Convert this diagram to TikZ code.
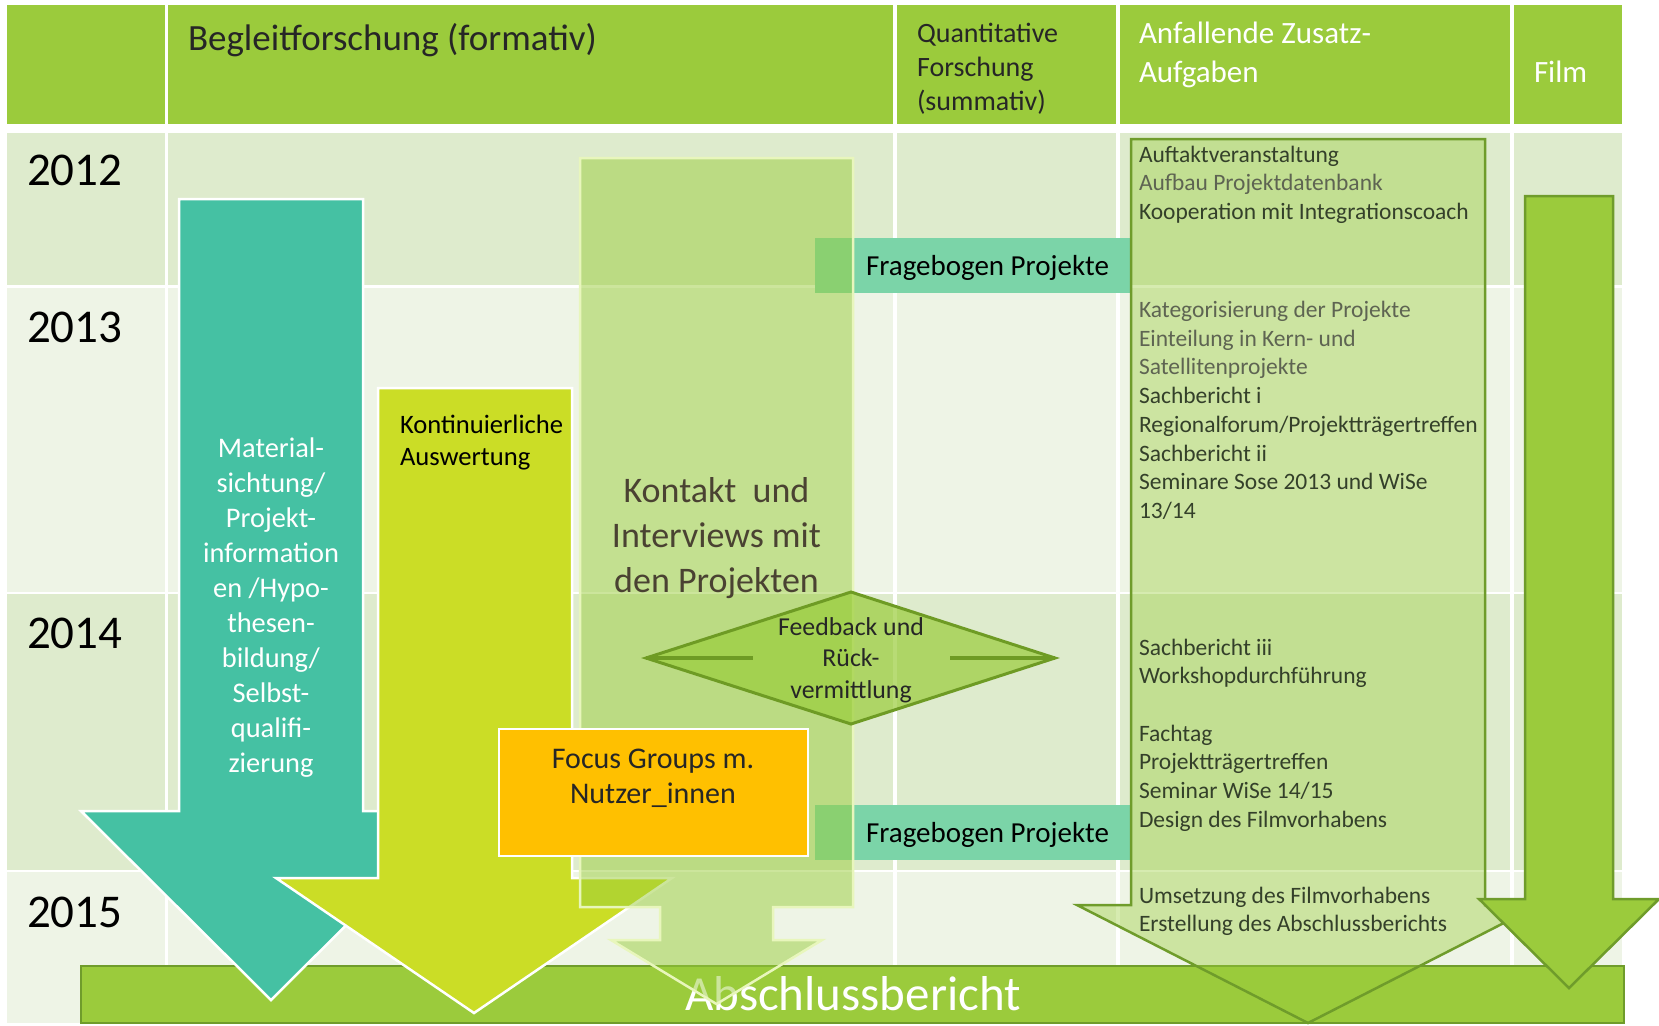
\documentclass[tikz,border=0pt]{standalone}
\usepackage{fontspec}
\setmainfont{Carlito}

\definecolor{hdr}{HTML}{9BCB3C}
\definecolor{rowA}{HTML}{DEEBCD}
\definecolor{rowB}{HTML}{EEF4E6}
\definecolor{tealarrow}{HTML}{45C1A3}
\definecolor{limearrow}{HTML}{CBDD26}
\definecolor{focusorange}{HTML}{FFC000}
\definecolor{mint}{HTML}{7BD4A8}
\definecolor{leaf}{HTML}{9ACD3B}
\definecolor{leafdark}{HTML}{6F9C2B}
\definecolor{diamondedge}{HTML}{6E9B24}
\definecolor{paleedge}{HTML}{E8F6BC}
\definecolor{txtdark}{HTML}{262626}
\definecolor{itemdark}{HTML}{34402A}
\definecolor{itemgrey}{HTML}{5E6452}
\definecolor{kontakttxt}{HTML}{4A4232}

% font size / baseline skip in pt
\newcommand\fs[2]{\fontsize{#1}{#2}\selectfont}
% stacked lines whose baseline is the first line
\newcommand\lines[2]{\begin{tabular}[t]{@{}#1@{}}#2\end{tabular}}

\begin{document}
\begin{tikzpicture}[x=0.5pt,y=-0.5pt,
  lbl/.style={inner sep=0pt,outer sep=0pt,anchor=base west},
  clbl/.style={inner sep=0pt,outer sep=0pt,anchor=base},
  whiteedge/.style={draw=white,line width=1.25pt,line join=miter},
  item/.style={lbl,font=\fs{11.75}{14.35}},
  year/.style={lbl,text=black,font=\fs{23.5}{28}},
]
\useasboundingbox (0,0) rectangle (1659,1025);
\fill[white] (0,0) rectangle (1659,1025);

% header row
\foreach \a/\b in {7/165,168/893,897/1116,1120/1510,1514/1622}
  \fill[hdr] (\a,5) rectangle (\b,124);

% year rows
\foreach \t/\u/\c in {133/285/rowA,288/592/rowB,594/870/rowA,872/1023/rowB}
  \foreach \a/\b in {7/165,168/893,897/1116,1120/1510,1514/1622}
    \fill[\c] (\a,\t) rectangle (\b,\u);

% header texts
\node[lbl,text=txtdark,font=\fs{18.5}{22}] (hbegleit) at (188,50) {Begleitforschung (formativ)};
\node[lbl,text=txtdark,font=\fs{14}{17}] (hquant) at (917,42) {\lines{l}{Quantitative\\Forschung\\(summativ)}};
\node[lbl,text=white,font=\fs{15.5}{19.5}] (hzusatz) at (1139,43) {\lines{l}{Anfallende Zusatz-\\Aufgaben}};
\node[lbl,text=white,font=\fs{15.5}{19.5}] (hfilm) at (1534,82) {Film};

% years
\node[year] (y2012) at (27,185) {2012};
\node[year] (y2013) at (27,342) {2013};
\node[year] (y2014) at (27,648) {2014};
\node[year] (y2015) at (27,927) {2015};

% final report bar
\draw[fill=hdr,draw=leafdark,line width=1pt] (81,966) rectangle (1624,1023);
\node[clbl,text=white,font=\fs{24.5}{28}] (final) at (853,1010) {Abschlussbericht};

% questionnaire bands
\fill[mint] (815,238) rectangle (1131,293);
\node[lbl,text=black,font=\fs{14.5}{17}] (fb1) at (866,275) {Fragebogen Projekte};
\fill[mint] (815,805) rectangle (1131,860);
\node[lbl,text=black,font=\fs{14.5}{17}] (fb2) at (866,842) {Fragebogen Projekte};

% material arrow
\filldraw[fill=tealarrow,whiteedge] (179,199) -- (363,199) -- (363,811) -- (461,811)
  -- (271,1000) -- (81,811) -- (179,811) -- cycle;
\node[clbl,text=white,font=\fs{14.2}{17.5}] (material) at (271,457)
  {\lines{c}{Material-\\sichtung/\\Projekt-\\information\\en /Hypo-\\thesen-\\bildung/\\Selbst-\\qualifi-\\zierung}};

% continuous evaluation arrow
\filldraw[fill=limearrow,whiteedge] (378,388) -- (572,388) -- (572,878) -- (672,878)
  -- (474,1013) -- (276,878) -- (378,878) -- cycle;
\node[lbl,text=black,font=\fs{13.3}{16}] (kont) at (400,433) {\lines{l}{Kontinuierliche\\Auswertung}};

% contact callout
\filldraw[fill=leaf,fill opacity=0.5,draw=paleedge,line width=1.25pt]
  (580,158) -- (853,158) -- (853,907) -- (773,907) -- (773,940) -- (822,940)
  -- (716.5,1004) -- (611,940) -- (660,940) -- (660,907) -- (580,907) -- cycle;
\node[clbl,text=kontakttxt,font=\fs{18}{22.5}] (kontakt) at (716.5,502)
  {\lines{c}{Kontakt\ \ und\\Interviews mit\\den Projekten}};

% feedback diamond
\coordinate (dl) at (646,658);
\coordinate (dt) at (851,592);
\coordinate (dr) at (1055,658);
\coordinate (db) at (851,724);
\coordinate (dli) at (753,658);
\coordinate (dri) at (950,658);
\filldraw[fill=leaf,fill opacity=0.7,draw=diamondedge,line width=1.5pt]
  (dl) -- (dt) -- (dr) -- (db) -- cycle;
\draw[diamondedge,line width=2pt] (dl) -- (dli) (dri) -- (dr);
\node[clbl,text=txtdark,font=\fs{12.9}{15.75}] (feedback) at (851,635)
  {\lines{c}{Feedback und\\Rück-\\vermittlung}};

% focus groups
\filldraw[fill=focusorange,whiteedge] (499,729) rectangle (808,856);
\node[clbl,text=txtdark,font=\fs{15}{17.5}] (focus) at (653,768) {\lines{c}{Focus Groups m.\\Nutzer\_innen}};

% additional tasks arrow
\filldraw[fill=leaf,fill opacity=0.4,draw=leafdark,line width=1.25pt]
  (1131,139) -- (1485,139) -- (1485,905) -- (1539,905) -- (1308,1023)
  -- (1077,905) -- (1131,905) -- cycle;
\node[item] (t1) at (1139,162) {\lines{l}{\color{itemdark}Auftaktveranstaltung\\
  \color{itemgrey}Aufbau Projektdatenbank\\
  \color{itemdark}Kooperation mit Integrationscoach}};
\node[item] (t2) at (1139,317.5) {\lines{l}{\color{itemgrey}Kategorisierung der Projekte\\
  \color{itemgrey}Einteilung in Kern- und\\
  \color{itemgrey}Satellitenprojekte\\
  \color{itemdark}Sachbericht i\\
  \color{itemdark}Regionalforum/Projektträgertreffen\\
  \color{itemdark}Sachbericht ii\\
  \color{itemdark}Seminare Sose 2013 und WiSe\\
  \color{itemdark}13/14}};
\node[item,text=itemdark] (t3) at (1139,655) {\lines{l}{Sachbericht iii\\Workshopdurchführung}};
\node[item,text=itemdark] (t4) at (1139,741) {\lines{l}{Fachtag\\Projektträgertreffen\\Seminar WiSe 14/15\\Design des Filmvorhabens}};
\node[item,text=itemdark] (t5) at (1139,903) {\lines{l}{Umsetzung des Filmvorhabens\\Erstellung des Abschlussberichts}};

% film arrow
\filldraw[fill=hdr,draw=leafdark,line width=1.25pt] (1525,196) -- (1613,196) -- (1613,899)
  -- (1659,899) -- (1569,988) -- (1479,899) -- (1525,899) -- cycle;
\end{tikzpicture}
\end{document}
